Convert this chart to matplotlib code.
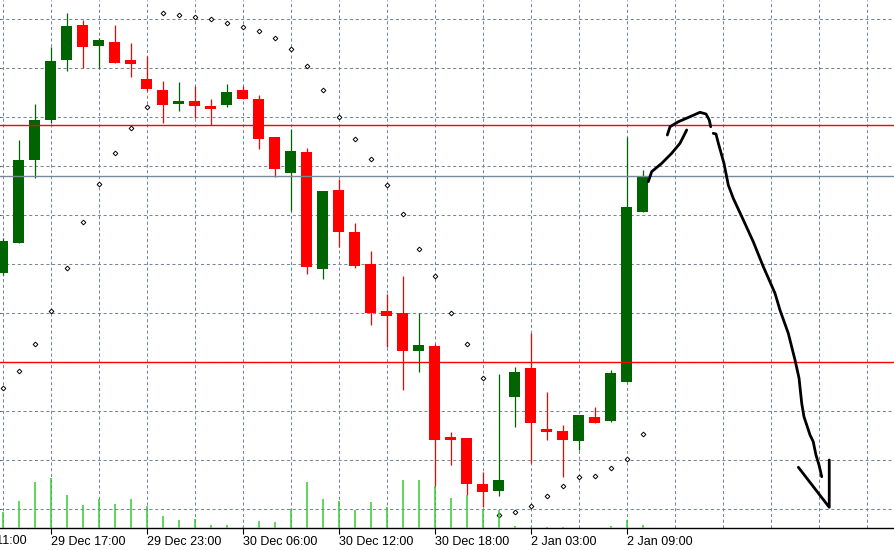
import matplotlib
matplotlib.use("Agg")
import matplotlib.pyplot as plt
import numpy as np

# hourly candles, 29 Dec 14:00 .. 2 Jan 10:00 (price scale is notional)
opens = [148.22, 154.35, 171.22, 179.53, 191.69, 198.78, 194.55, 195.31, 191.49, 187.76,
         185.51, 182.65, 183.27, 182.24, 182.51, 185.37, 183.67, 175.78, 168.63, 172.86,
         148.98, 165.10, 156.53, 150.00, 140.41, 139.86, 132.31, 133.27, 114.55, 114.49,
         105.10, 103.73, 122.92, 128.78, 116.33, 115.92, 113.94, 118.78, 118.02, 125.98,
         160.67]
highs = [155.31, 175.31, 182.65, 194.35, 201.22, 199.80, 196.18, 198.78, 195.10, 192.45,
         187.35, 187.14, 186.33, 183.67, 186.73, 186.33, 184.49, 175.78, 177.55, 173.61,
         164.90, 167.41, 158.37, 152.65, 143.94, 147.55, 139.94, 133.67, 115.65, 114.49,
         107.55, 127.55, 128.98, 135.92, 123.94, 117.14, 119.18, 120.82, 128.37, 175.98,
         169.18]
lows = [147.76, 154.35, 167.61, 178.84, 189.45, 190.06, 189.94, 191.08, 188.22, 185.37,
        178.84, 181.29, 179.86, 178.31, 182.10, 183.73, 173.53, 167.82, 160.88, 148.02,
        147.00, 153.53, 149.24, 137.61, 133.06, 124.35, 128.02, 104.76, 109.04, 102.86,
        100.41, 102.71, 116.80, 109.33, 114.14, 106.59, 111.98, 117.55, 117.82, 125.98,
        160.67]
closes = [154.69, 171.22, 179.39, 191.43, 198.57, 194.35, 195.71, 191.08, 190.88, 185.78,
          182.51, 183.12, 182.31, 181.69, 185.10, 183.73, 175.57, 169.45, 173.06, 149.45,
          164.90, 156.59, 149.65, 140.06, 139.45, 132.31, 133.47, 114.14, 114.14, 105.16,
          103.53, 105.92, 127.96, 117.61, 115.78, 114.14, 119.18, 117.55, 127.76, 161.63,
          167.96]
volumes = [640, 1080, 1840, 2000, 1320, 920, 1160, 960, 1160, 880,
           480, 320, 360, 120, 120, 60, 280, 240, 760, 1840,
           1160, 1080, 720, 1040, 840, 1920, 1920, 1700, 1200, 1320,
           760, 720, 80, 40, 60, 40, 20, 20, 80, 320,
           120]
sar = [124.63, 128.10, 133.61, 140.47, 149.12, 158.51, 166.27, 172.59, 177.69, 181.98,
       201.16, 200.76, 200.35, 199.94, 199.12, 198.31, 197.49, 196.06, 193.82, 190.35,
       185.45, 179.94, 175.45, 171.37, 166.06, 160.14, 153.00, 147.55, 139.94, 133.61,
       126.67, 98.71, 99.33, 100.55, 102.59, 104.63, 106.47, 106.67, 108.31, 110.14,
       115.24]

tick_pos = [-3, 3, 9, 15, 21, 27, 33, 39]
tick_labels = ["29 Dec 11:00", "29 Dec 17:00", "29 Dec 23:00", "30 Dec 06:00",
               "30 Dec 12:00", "30 Dec 18:00", "2 Jan 03:00", "2 Jan 09:00"]

red_levels = [130.00, 178.31]
gray_level = 167.90

# hand-drawn sketch (bar index, price)
sketch1_x = [40.35, 40.56, 41.19, 41.81, 42.33, 42.54, 42.75]
sketch1_y = [166.80, 168.84, 170.55, 172.59, 174.63, 175.98, 177.35]
sketch2_x = [41.54, 41.71, 42.23, 42.96, 43.58, 43.96, 44.16, 44.25]
sketch2_y = [176.33, 178.02, 179.04, 180.06, 180.96, 180.61, 179.39, 178.02]
sketch3_x = [44.41, 44.58, 44.73, 45.08, 45.35, 45.66, 46.29, 46.91, 47.54, 48.27, 48.58,
             49.10, 49.52, 49.77, 49.94, 50.08, 50.46, 50.66, 50.83, 51.02, 51.19]
sketch3_y = [176.67, 176.53, 174.63, 170.55, 166.12, 163.41, 158.98, 154.55, 149.45, 144.02,
             140.61, 135.86, 130.41, 126.73, 121.57, 118.84, 115.10, 113.73, 111.02, 108.98,
             106.59]
arrow_x = [49.73, 51.66, 51.66]
arrow_y = [108.51, 100.35, 110.00]

BULL = "#006400"
BEAR = "#ff0000"
GRID = "#778899"

o = np.array(opens)
c = np.array(closes)
idx = np.arange(len(o))
colors = [BULL if cc >= oo else BEAR for oo, cc in zip(o, c)]

fig = plt.figure(figsize=(8.95, 5.5), dpi=100)
ax = fig.add_axes([0, 0.04, 1, 0.96])
ax.set_xlim(-0.17, 55.77)
ax.set_ylim(96.12, 203.88)

# grid
ax.set_axisbelow(True)
ax.set_xticks(tick_pos[1:])
ax.set_xticklabels(tick_labels[1:], ha="left", fontsize=9, family="Liberation Sans")
ax.set_xticks(np.arange(0, 56, 3), minor=True)
ax.set_yticks(np.arange(100, 201, 10))
ax.tick_params(axis="y", left=False, labelleft=False)
ax.tick_params(axis="x", which="major", length=4, width=0.8, pad=2, color="black")
ax.tick_params(axis="x", which="minor", length=0)
ax.grid(True, which="both", color=GRID, linestyle=(0, (3, 2.5)), linewidth=0.75)
for s in ["left", "right", "top"]:
    ax.spines[s].set_visible(False)
ax.spines["bottom"].set_linewidth(1.0)

# first label is cut by the left border
ax.text(tick_pos[0] - 0.1, -0.013, tick_labels[0], transform=ax.get_xaxis_transform(),
        ha="left", va="top", fontsize=9, family="Liberation Sans", clip_on=False)

# candles
ax.vlines(idx, lows, highs, colors=colors, linewidth=0.9, zorder=3)
ax.bar(idx, np.abs(c - o) + 0.15, bottom=np.minimum(o, c) - 0.075, width=0.6875,
       color=colors, linewidth=0, zorder=3)

# levels
for lv in red_levels:
    ax.axhline(lv, color=BEAR, linewidth=1.0, zorder=4)
ax.axhline(gray_level, color=GRID, linewidth=1.0, zorder=4)

# parabolic SAR
ax.plot(idx, sar, linestyle="none", marker="D", markersize=2.4, markerfacecolor="white",
        markeredgecolor="black", markeredgewidth=0.7, zorder=5)

# sketch
for xs, ys in [(sketch1_x, sketch1_y), (sketch2_x, sketch2_y), (sketch3_x, sketch3_y), (arrow_x, arrow_y)]:
    ax.plot(xs, ys, color="black", linewidth=2.0, solid_capstyle="round",
            solid_joinstyle="round", zorder=6)

# volumes
axv = ax.twinx()
axv.set_ylim(0, 21120)
axv.vlines(idx, 0, volumes, colors="#32cd32", linewidth=1.1)
axv.set_yticks([])
for s in axv.spines.values():
    s.set_visible(False)

fig.savefig("out.png", dpi=100)
